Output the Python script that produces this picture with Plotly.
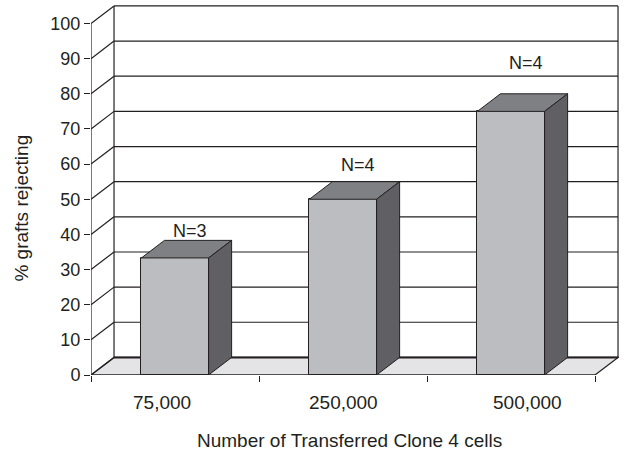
import plotly.graph_objects as go

# Data
categories = ["75,000", "250,000", "500,000"]
pct_rejecting = [33.3, 50.0, 75.0]
group_sizes = ["N=3", "N=4", "N=4"]
y_ticks = list(range(0, 101, 10))

# Styling
FONT = "Liberation Sans, Arial, sans-serif"
INK = "#231f20"
FRONT = "#bcbdc1"
TOP = "#7f8084"
SIDE = "#606064"
FLOOR = "#e4e4e6"

# pseudo-3D depth offset, in data units
DX = 0.137
DY = 5.0
BAR_W = 0.4
x0, x1 = -0.5, len(categories) - 0.5

shapes = []


def seg(xa, ya, xb, yb, width=1.2):
    shapes.append(dict(type="line", xref="x", yref="y", x0=xa, y0=ya, x1=xb, y1=yb,
                       line=dict(color=INK, width=width), layer="below"))


# floor
shapes.append(dict(type="path", xref="x", yref="y", layer="below",
                   path=f"M{x0},0 L{x1},0 L{x1+DX},{DY} L{x0+DX},{DY} Z",
                   fillcolor=FLOOR, line=dict(color=INK, width=1.2)))
# side wall diagonals + back wall gridlines
for v in y_ticks:
    seg(x0, v, x0 + DX, v + DY)
    seg(x0 + DX, v + DY, x1 + DX, v + DY, width=2 if v == 0 else 1.2)
# back wall edges
seg(x0 + DX, DY, x0 + DX, 100 + DY)
seg(x1 + DX, DY, x1 + DX, 100 + DY)
# front value axis and category axis lines
seg(x0, 0, x0, 100)
seg(x0, 0, x1, 0)

fig = go.Figure()

xs = list(range(len(categories)))
fig.add_trace(go.Bar(
    x=xs, y=pct_rejecting, width=BAR_W,
    marker=dict(color=FRONT, line=dict(color=INK, width=1)),
    hoverinfo="skip", showlegend=False,
))

for c, v in zip(xs, pct_rejecting):
    l, r = c - BAR_W / 2, c + BAR_W / 2
    # top face
    fig.add_trace(go.Scatter(
        x=[l, r, r + DX, l + DX, l], y=[v, v, v + DY, v + DY, v],
        mode="lines", fill="toself", fillcolor=TOP,
        line=dict(color=INK, width=1), hoverinfo="skip", showlegend=False))
    # side face
    fig.add_trace(go.Scatter(
        x=[r, r + DX, r + DX, r, r], y=[0, DY, v + DY, v, 0],
        mode="lines", fill="toself", fillcolor=SIDE,
        line=dict(color=INK, width=1), hoverinfo="skip", showlegend=False))

annotations = []
# group size labels above each column
label_lift = [7.7, 9.7, 13.8]
for c, v, txt, lift in zip(xs, pct_rejecting, group_sizes, label_lift):
    annotations.append(dict(x=c + 0.09, y=v + lift, xref="x", yref="y", text=txt,
                            showarrow=False, font=dict(family=FONT, size=18, color=INK)))

# category labels under the floor
cat_shift = [-0.08, 0.0, 0.1]
for c, txt, dx in zip(xs, categories, cat_shift):
    annotations.append(dict(x=c + dx, y=-0.0726, xref="x", yref="paper", yanchor="middle",
                            text=txt, showarrow=False,
                            font=dict(family=FONT, size=19, color=INK)))

annotations.append(dict(x=0.49, y=-0.177, xref="paper", yref="paper", yanchor="middle",
                        text="Number of Transferred Clone 4 cells", showarrow=False,
                        font=dict(family=FONT, size=19, color=INK)))
annotations.append(dict(x=-0.1307, y=0.45, xref="paper", yref="paper", textangle=-90,
                        xanchor="center", yanchor="middle",
                        text="% grafts rejecting", showarrow=False,
                        font=dict(family=FONT, size=19, color=INK)))

W, H = 624, 454
ml, mr, mt, mb = 91, 5, 3, 79
px_per_cat = 168.0
px_per_unit = 3.515
fig.update_layout(
    width=W, height=H,
    margin=dict(l=ml, r=mr, t=mt, b=mb, pad=0),
    paper_bgcolor="white", plot_bgcolor="white",
    shapes=shapes, annotations=annotations,
    bargap=0,
    xaxis=dict(
        range=[x0, x0 + (W - ml - mr) / px_per_cat],
        tickmode="array", tickvals=[x0 + i for i in range(len(categories) + 1)],
        ticktext=[""] * (len(categories) + 1),
        ticks="outside", ticklen=6, tickwidth=1.2, tickcolor=INK,
        showgrid=False, zeroline=False, showline=False,
    ),
    yaxis=dict(
        range=[0, (H - mt - mb) / px_per_unit],
        tickmode="array", tickvals=y_ticks,
        ticks="outside", ticklen=6, tickwidth=1.2, tickcolor=INK,
        showgrid=False, zeroline=False, showline=False,
        tickfont=dict(family=FONT, size=18, color=INK),
    ),
)

fig.write_html("out.html")
